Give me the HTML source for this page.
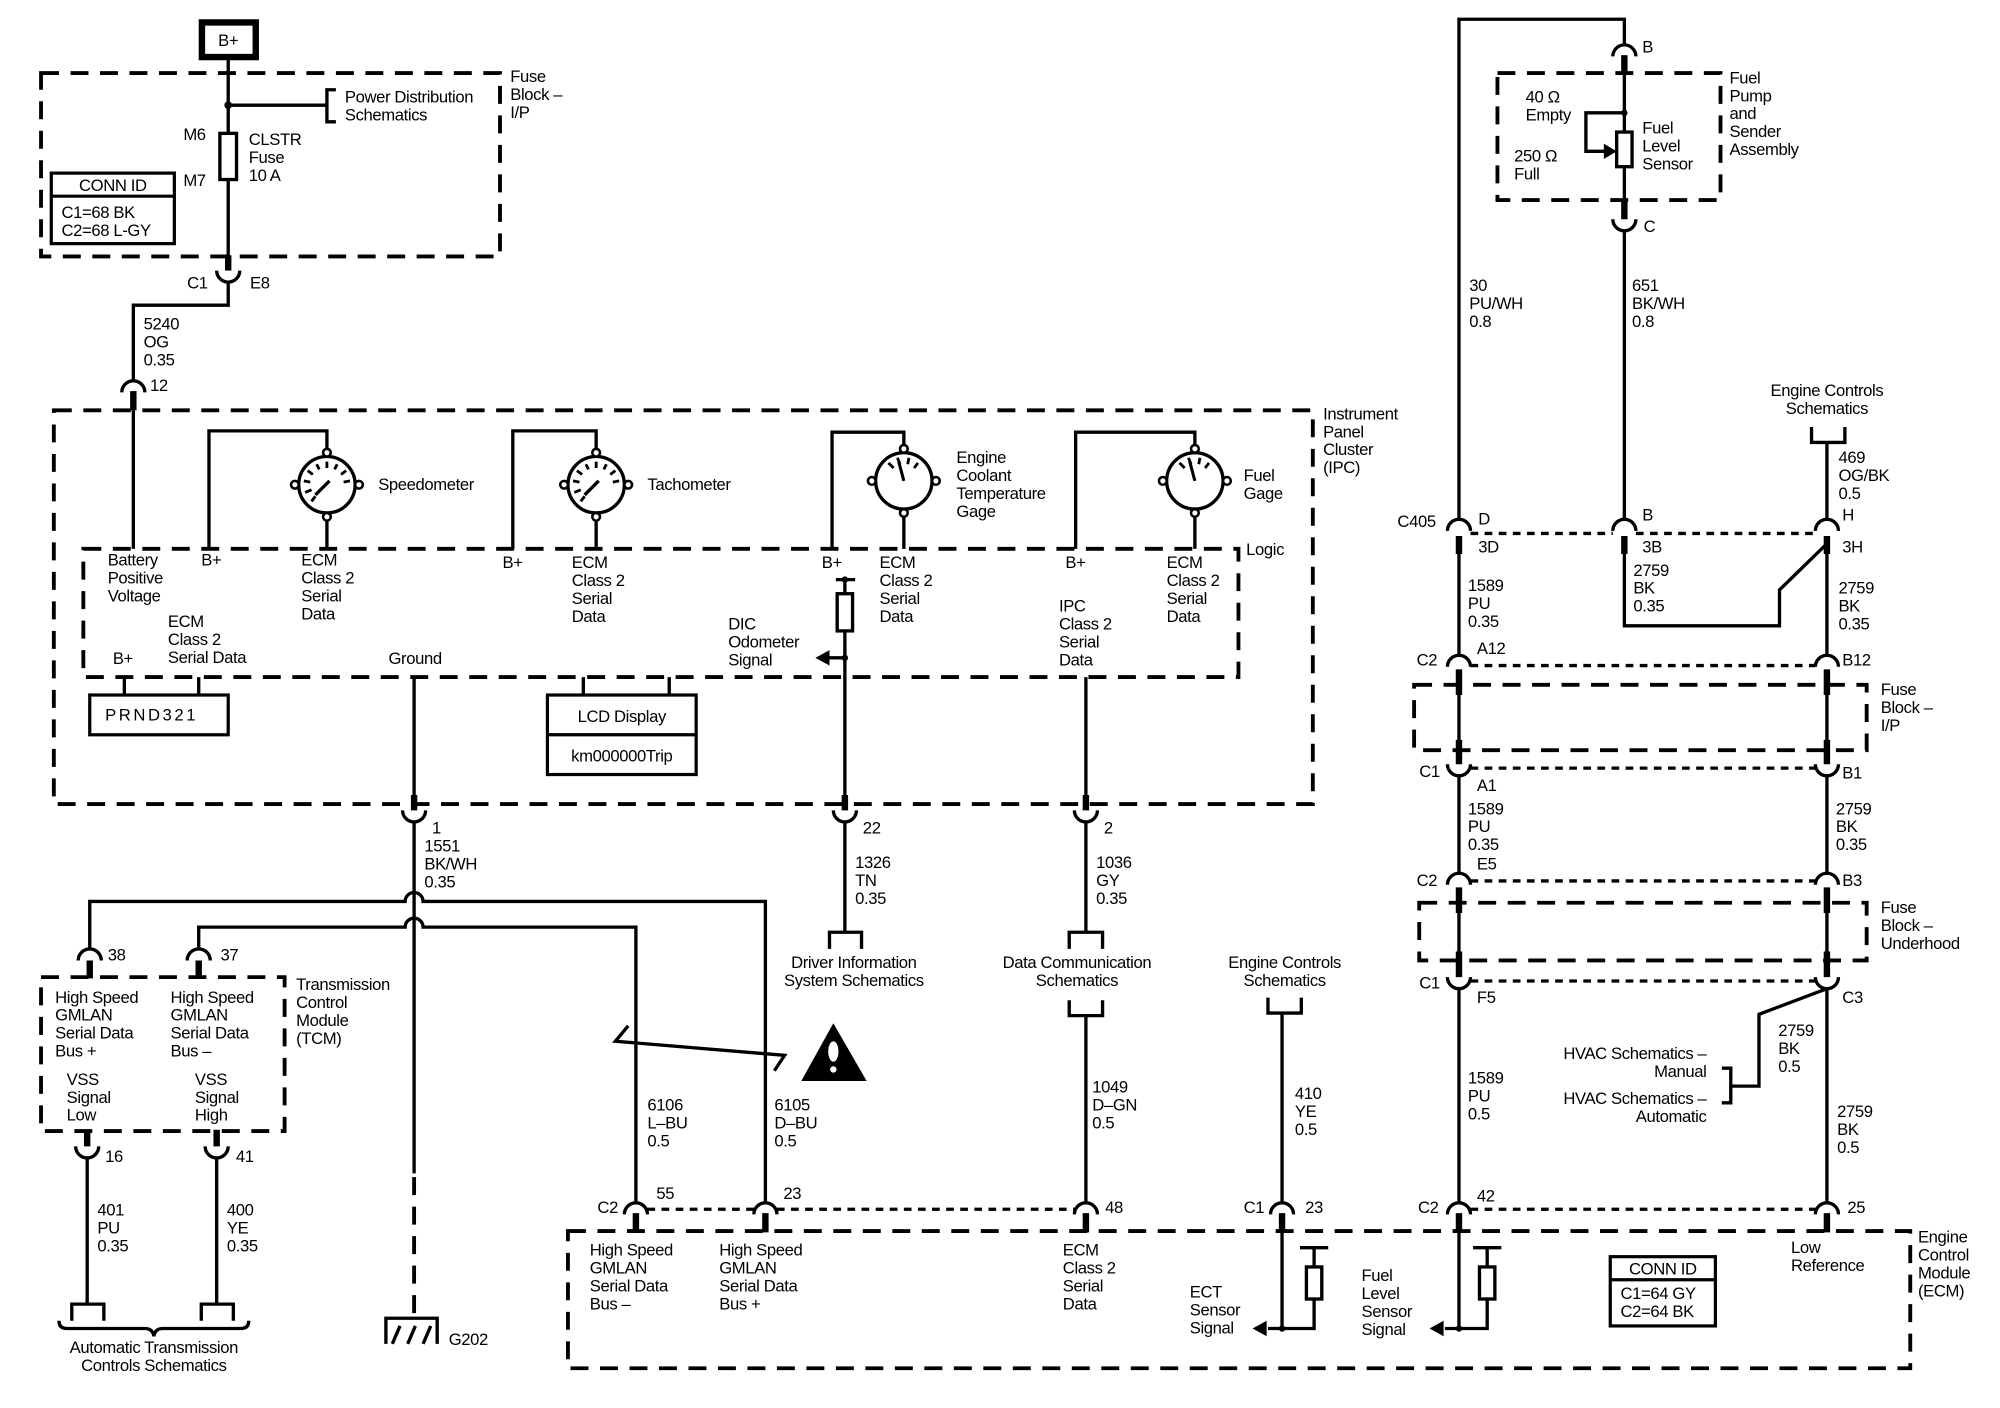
<!DOCTYPE html>
<html><head><meta charset="utf-8"><style>
html,body{margin:0;padding:0;background:#fff;}
svg{display:block;}
text{font-family:"Liberation Sans",Arial,sans-serif;font-size:13px;fill:#000;letter-spacing:-0.3px;}
.w{stroke:#000;stroke-width:2.6;fill:none;}
.t{stroke:#000;stroke-width:5;fill:none;}
.d{stroke:#000;stroke-width:3;fill:none;stroke-dasharray:14 9;}
.s{stroke:#000;stroke-width:2.6;fill:none;stroke-dasharray:6 5;}
.c{text-anchor:middle;}
.r{text-anchor:end;}
</style></head><body>
<svg width="2000" height="1408" viewBox="0 0 1560 1098" preserveAspectRatio="none" xmlns="http://www.w3.org/2000/svg">
<defs>
<g id="gauge">
<circle r="22" class="w"/>
<circle cx="0" cy="-25" r="3" fill="#fff" stroke="#000" stroke-width="2"/>
<circle cx="0" cy="25" r="3" fill="#fff" stroke="#000" stroke-width="2"/>
<circle cx="-25" cy="0" r="3" fill="#fff" stroke="#000" stroke-width="2"/>
<circle cx="25" cy="0" r="3" fill="#fff" stroke="#000" stroke-width="2"/>
</g>
<g id="ticksA" stroke="#000" stroke-width="2.2">
<line x1="-12" y1="4" x2="-17" y2="6"/><line x1="-13" y1="-2" x2="-18" y2="-3"/><line x1="-11" y1="-8" x2="-15" y2="-11"/>
<line x1="-6" y1="-12" x2="-8" y2="-16"/><line x1="0" y1="-13" x2="0" y2="-18"/><line x1="6" y1="-12" x2="8" y2="-16"/>
<line x1="11" y1="-8" x2="15" y2="-11"/><line x1="13" y1="-2" x2="18" y2="-3"/><line x1="-9" y1="9" x2="-12" y2="13"/>
<line x1="2" y1="-3" x2="-9" y2="8" stroke-width="2.6"/>
</g>
<g id="ticksB" stroke="#000" stroke-width="2.2">
<line x1="-8" y1="-10" x2="-12" y2="-14"/><line x1="-3" y1="-13" x2="-5" y2="-18"/><line x1="3" y1="-13" x2="4" y2="-18"/><line x1="8" y1="-10" x2="11" y2="-14"/>
<line x1="-4" y1="-15" x2="0" y2="0" stroke-width="2.4"/>
</g>
</defs>

<!-- B+ -->
<rect x="157.5" y="17.5" width="42" height="27" fill="none" stroke="#000" stroke-width="5"/>
<text x="178" y="36" class="c">B+</text>

<!-- Fuse block I/P -->
<rect x="32" y="57" width="358" height="143" class="d"/>
<text x="398" y="64">Fuse</text><text x="398" y="78">Block –</text><text x="398" y="92">I/P</text>
<path class="w" d="M178 45V104M178 140V200M178 82H255M262 70H255V95H262"/>
<circle cx="178" cy="82" r="3"/>
<rect x="171.5" y="104" width="13" height="36" class="w"/>
<text x="269" y="80">Power Distribution</text><text x="269" y="94">Schematics</text>
<text x="143" y="109">M6</text><text x="143" y="145">M7</text>
<text x="194" y="113">CLSTR</text><text x="194" y="127">Fuse</text><text x="194" y="141">10 A</text>
<rect x="40" y="135" width="96" height="55" fill="none" stroke="#000" stroke-width="2.5"/>
<line x1="40" y1="153" x2="136" y2="153" stroke="#000" stroke-width="2.5"/>
<text x="88" y="149" class="c">CONN ID</text><text x="48" y="170">C1=68 BK</text><text x="48" y="184">C2=68 L-GY</text>
<!-- C1 E8 -->
<path class="t" d="M178 199V211"/>
<path class="w" d="M169 211A9 9 0 0 0 187 211"/>
<text x="146" y="225">C1</text><text x="195" y="225">E8</text>
<path class="w" d="M178 220V238H104V298"/>
<text x="112" y="257">5240</text><text x="112" y="271">OG</text><text x="112" y="285">0.35</text>
<path class="w" d="M95 306A9 9 0 0 1 113 306"/>
<path class="t" d="M104 305V320"/>
<text x="117" y="305">12</text>
<path class="w" d="M104 320V428"/>

<!-- IPC -->
<rect x="42" y="320" width="982" height="307" class="d"/>
<text x="1032" y="327">Instrument</text><text x="1032" y="341">Panel</text><text x="1032" y="355">Cluster</text><text x="1032" y="369">(IPC)</text>
<rect x="65" y="428" width="901" height="100" class="d"/>
<text x="972" y="433">Logic</text>

<!-- gauges -->
<path class="w" d="M163 428V336H255V353M255 403V428"/>
<use href="#gauge" x="255" y="378"/><use href="#ticksA" x="255" y="378"/>
<text x="295" y="382">Speedometer</text>
<path class="w" d="M400 428V336H465V353M465 403V428"/>
<use href="#gauge" x="465" y="378"/><use href="#ticksA" x="465" y="378"/>
<text x="505" y="382">Tachometer</text>
<path class="w" d="M649 428V337H705V350M705 400V428"/>
<use href="#gauge" x="705" y="375"/><use href="#ticksB" x="705" y="375"/>
<text x="746" y="361">Engine</text><text x="746" y="375">Coolant</text><text x="746" y="389">Temperature</text><text x="746" y="403">Gage</text>
<path class="w" d="M839 428V337H932V350M932 400V428"/>
<use href="#gauge" x="932" y="375"/><use href="#ticksB" x="932" y="375"/>
<text x="970" y="375">Fuel</text><text x="970" y="389">Gage</text>

<!-- logic texts -->
<text x="84" y="441">Battery</text><text x="84" y="455">Positive</text><text x="84" y="469">Voltage</text>
<text x="157" y="441">B+</text>
<text x="235" y="441">ECM</text><text x="235" y="455">Class 2</text><text x="235" y="469">Serial</text><text x="235" y="483">Data</text>
<text x="392" y="443">B+</text>
<text x="446" y="443">ECM</text><text x="446" y="457">Class 2</text><text x="446" y="471">Serial</text><text x="446" y="485">Data</text>
<text x="641" y="443">B+</text>
<text x="686" y="443">ECM</text><text x="686" y="457">Class 2</text><text x="686" y="471">Serial</text><text x="686" y="485">Data</text>
<text x="831" y="443">B+</text>
<text x="910" y="443">ECM</text><text x="910" y="457">Class 2</text><text x="910" y="471">Serial</text><text x="910" y="485">Data</text>
<text x="131" y="489">ECM</text><text x="131" y="503">Class 2</text><text x="131" y="517">Serial Data</text>
<text x="88" y="518">B+</text>
<text x="303" y="518">Ground</text>
<text x="568" y="491">DIC</text><text x="568" y="505">Odometer</text><text x="568" y="519">Signal</text>
<text x="826" y="477">IPC</text><text x="826" y="491">Class 2</text><text x="826" y="505">Serial</text><text x="826" y="519">Data</text>

<!-- PRND / LCD -->
<path class="w" d="M97 528V543M155 528V543M455 528V543M522 528V543"/>
<rect x="70" y="542" width="108" height="31" fill="none" stroke="#000" stroke-width="2.5"/>
<text x="82" y="562" style="letter-spacing:2px">PRND321</text>
<rect x="427" y="542" width="116" height="62" fill="none" stroke="#000" stroke-width="2.5"/>
<line x1="427" y1="573" x2="543" y2="573" stroke="#000" stroke-width="2.5"/>
<text x="485" y="563" class="c">LCD Display</text><text x="485" y="594" class="c">km000000Trip</text>

<!-- DIC odometer -->
<path class="w" d="M652 452H667M659 452V463M659 492V624M659 513H645"/>
<circle cx="659" cy="452" r="2.5"/><circle cx="659" cy="513" r="2.5"/>
<rect x="653" y="463" width="12" height="29" class="w"/>
<polygon points="636,513 647,507 647,519"/>

<!-- IPC bottom connectors -->
<path class="w" d="M323 528V624M847 528V624"/>
<path class="t" d="M323 620V632M659 620V632M847 620V632"/>
<path class="w" d="M314 632A9 9 0 0 0 332 632M650 632A9 9 0 0 0 668 632M838 632A9 9 0 0 0 856 632"/>
<text x="337" y="650">1</text><text x="673" y="650">22</text><text x="861" y="650">2</text>

<!-- ground wire & branches -->
<path class="w" d="M323 641V915"/>
<path class="d" d="M323 918V1028"/>
<text x="331" y="664">1551</text><text x="331" y="678">BK/WH</text><text x="331" y="692">0.35</text>
<path class="w" d="M70 741V703H316A7 7 0 0 1 330 703H597V939"/>
<path class="w" d="M155 741V723H316A7 7 0 0 1 330 723H496V939"/>
<!-- G202 -->
<path class="w" d="M301 1048V1028H341V1048M306 1048L312 1034M318 1048L324 1034M330 1048L336 1034"/>
<text x="350" y="1049">G202</text>

<!-- TCM -->
<path class="w" d="M61 749A9 9 0 0 1 79 749M146 749A9 9 0 0 1 164 749"/>
<path class="t" d="M70 749V763M155 749V763"/>
<text x="84" y="749">38</text><text x="172" y="749">37</text>
<rect x="32" y="762" width="190" height="120" class="d"/>
<text x="231" y="772">Transmission</text><text x="231" y="786">Control</text><text x="231" y="800">Module</text><text x="231" y="814">(TCM)</text>
<text x="43" y="782">High Speed</text><text x="43" y="796">GMLAN</text><text x="43" y="810">Serial Data</text><text x="43" y="824">Bus +</text>
<text x="133" y="782">High Speed</text><text x="133" y="796">GMLAN</text><text x="133" y="810">Serial Data</text><text x="133" y="824">Bus –</text>
<text x="52" y="846">VSS</text><text x="52" y="860">Signal</text><text x="52" y="874">Low</text>
<text x="152" y="846">VSS</text><text x="152" y="860">Signal</text><text x="152" y="874">High</text>
<path class="t" d="M68 881V894M169 881V894"/>
<path class="w" d="M59 894A9 9 0 0 0 77 894M160 894A9 9 0 0 0 178 894"/>
<text x="82" y="906">16</text><text x="184" y="906">41</text>
<path class="w" d="M68 903V1017M169 903V1017M56 1030V1017H81V1030M157 1030V1017H182V1030"/>
<text x="76" y="948">401</text><text x="76" y="962">PU</text><text x="76" y="976">0.35</text>
<text x="177" y="948">400</text><text x="177" y="962">YE</text><text x="177" y="976">0.35</text>
<path class="w" d="M46 1030Q46 1036 52 1036H113Q119 1036 120 1042Q121 1036 127 1036H188Q194 1036 194 1030" stroke-width="2"/>
<text x="120" y="1055" class="c">Automatic Transmission</text><text x="120" y="1069" class="c">Controls Schematics</text>

<!-- warning -->
<polyline class="w" points="490,800 480,812 612,823 604,835"/>
<polygon points="650,798 625,843 676,843"/>
<ellipse cx="650" cy="820" rx="4" ry="8" fill="#fff"/><circle cx="650" cy="834" r="2.5" fill="#fff"/>
<text x="505" y="866">6106</text><text x="505" y="880">L–BU</text><text x="505" y="894">0.5</text>
<text x="604" y="866">6105</text><text x="604" y="880">D–BU</text><text x="604" y="894">0.5</text>

<!-- driver info -->
<path class="w" d="M659 641V727M647 740V727H672V740"/>
<text x="667" y="677">1326</text><text x="667" y="691">TN</text><text x="667" y="705">0.35</text>
<text x="666" y="755" class="c">Driver Information</text><text x="666" y="769" class="c">System Schematics</text>
<!-- data comm -->
<path class="w" d="M847 641V727M834 740V727H860V740M834 780V792H860V780M847 792V939"/>
<text x="855" y="677">1036</text><text x="855" y="691">GY</text><text x="855" y="705">0.35</text>
<text x="840" y="755" class="c">Data Communication</text><text x="840" y="769" class="c">Schematics</text>
<text x="852" y="852">1049</text><text x="852" y="866">D–GN</text><text x="852" y="880">0.5</text>
<!-- engine controls 410 -->
<text x="1002" y="755" class="c">Engine Controls</text><text x="1002" y="769" class="c">Schematics</text>
<path class="w" d="M989 778V790H1015V778M1000 790V939"/>
<text x="1010" y="857">410</text><text x="1010" y="871">YE</text><text x="1010" y="885">0.5</text>

<!-- ECM connector row -->
<path class="s" d="M505 943H588M606 943H838M1147 943H1416"/>
<path class="w" d="M487 947A9 9 0 0 1 505 947M588 947A9 9 0 0 1 606 947M838 947A9 9 0 0 1 856 947M991 947A9 9 0 0 1 1009 947M1129 947A9 9 0 0 1 1147 947M1416 947A9 9 0 0 1 1434 947"/>
<path class="t" d="M496 946V961M597 946V961M847 946V961M1000 946V961M1138 946V961M1425 946V961"/>
<text x="466" y="946">C2</text><text x="512" y="935">55</text><text x="611" y="935">23</text>
<text x="862" y="946">48</text><text x="970" y="946">C1</text><text x="1018" y="946">23</text>
<text x="1106" y="946">C2</text><text x="1152" y="937">42</text><text x="1441" y="946">25</text>

<!-- ECM box -->
<rect x="443" y="960" width="1047" height="107" class="d"/>
<text x="1496" y="969">Engine</text><text x="1496" y="983">Control</text><text x="1496" y="997">Module</text><text x="1496" y="1011">(ECM)</text>
<text x="460" y="979">High Speed</text><text x="460" y="993">GMLAN</text><text x="460" y="1007">Serial Data</text><text x="460" y="1021">Bus –</text>
<text x="561" y="979">High Speed</text><text x="561" y="993">GMLAN</text><text x="561" y="1007">Serial Data</text><text x="561" y="1021">Bus +</text>
<text x="829" y="979">ECM</text><text x="829" y="993">Class 2</text><text x="829" y="1007">Serial</text><text x="829" y="1021">Data</text>
<!-- ECT -->
<path class="w" d="M1000 960V1036H989M1014 973H1036M1025 973V988M1025 1013V1036H1000"/>
<rect x="1019" y="988" width="12" height="25" class="w"/>
<circle cx="1000" cy="1036" r="2.5"/>
<polygon points="977,1036 988,1030 988,1042"/>
<text x="928" y="1012">ECT</text><text x="928" y="1026">Sensor</text><text x="928" y="1040">Signal</text>
<!-- Fuel level sensor -->
<path class="w" d="M1138 960V1036H1127M1149 973H1171M1160 973V988M1160 1013V1036H1138"/>
<rect x="1154" y="988" width="12" height="25" class="w"/>
<circle cx="1138" cy="1036" r="2.5"/>
<polygon points="1115,1036 1126,1030 1126,1042"/>
<text x="1062" y="999">Fuel</text><text x="1062" y="1013">Level</text><text x="1062" y="1027">Sensor</text><text x="1062" y="1041">Signal</text>
<rect x="1256" y="980" width="82" height="54" fill="none" stroke="#000" stroke-width="2.5"/>
<line x1="1256" y1="998" x2="1338" y2="998" stroke="#000" stroke-width="2.5"/>
<text x="1297" y="994" class="c">CONN ID</text><text x="1264" y="1013">C1=64 GY</text><text x="1264" y="1027">C2=64 BK</text>
<text x="1397" y="977">Low</text><text x="1397" y="991">Reference</text>

<!-- RIGHT SIDE -->
<path class="w" d="M1138 406V15H1267V36"/>
<path class="w" d="M1258 44A9 9 0 0 1 1276 44"/>
<path class="t" d="M1267 43V57"/>
<text x="1281" y="41">B</text>
<rect x="1168" y="57" width="174" height="99" class="d"/>
<text x="1349" y="65">Fuel</text><text x="1349" y="79">Pump</text><text x="1349" y="93">and</text><text x="1349" y="107">Sender</text><text x="1349" y="121">Assembly</text>
<path class="w" d="M1267 57V103M1267 130V162M1267 88H1237V118H1253"/>
<circle cx="1267" cy="88" r="2.5"/>
<polygon points="1261,118 1251,112 1251,124"/>
<rect x="1261" y="103" width="12" height="27" class="w"/>
<text x="1190" y="80">40 Ω</text><text x="1190" y="94">Empty</text><text x="1181" y="126">250 Ω</text><text x="1181" y="140">Full</text>
<text x="1281" y="104">Fuel</text><text x="1281" y="118">Level</text><text x="1281" y="132">Sensor</text>
<path class="t" d="M1267 156V171"/>
<path class="w" d="M1258 171A9 9 0 0 0 1276 171M1267 180V406"/>
<text x="1282" y="181">C</text>
<text x="1146" y="227">30</text><text x="1146" y="241">PU/WH</text><text x="1146" y="255">0.8</text>
<text x="1273" y="227">651</text><text x="1273" y="241">BK/WH</text><text x="1273" y="255">0.8</text>
<text x="1425" y="309" class="c">Engine Controls</text><text x="1425" y="323" class="c">Schematics</text>
<path class="w" d="M1413 333V345H1439V333M1425 345V406"/>
<text x="1434" y="361">469</text><text x="1434" y="375">OG/BK</text><text x="1434" y="389">0.5</text>

<!-- C405 -->
<path class="s" d="M1147 416H1258M1276 416H1416"/>
<path class="w" d="M1129 414A9 9 0 0 1 1147 414M1258 414A9 9 0 0 1 1276 414M1416 414A9 9 0 0 1 1434 414"/>
<path class="t" d="M1138 418V432M1267 418V432M1425 418V432"/>
<text x="1090" y="411">C405</text><text x="1153" y="409">D</text><text x="1281" y="406">B</text><text x="1437" y="406">H</text>
<text x="1153" y="431">3D</text><text x="1281" y="431">3B</text><text x="1437" y="431">3H</text>
<path class="w" d="M1138 432V512M1267 432V488H1388V460L1425 424M1425 432V512"/>
<text x="1145" y="461">1589</text><text x="1145" y="475">PU</text><text x="1145" y="489">0.35</text>
<text x="1274" y="449">2759</text><text x="1274" y="463">BK</text><text x="1274" y="477">0.35</text>
<text x="1434" y="463">2759</text><text x="1434" y="477">BK</text><text x="1434" y="491">0.35</text>

<!-- C2 A12/B12 -->
<path class="s" d="M1147 519H1416"/>
<path class="w" d="M1129 520A9 9 0 0 1 1147 520M1416 520A9 9 0 0 1 1434 520"/>
<text x="1105" y="519">C2</text><text x="1152" y="510">A12</text><text x="1437" y="519">B12</text>
<rect x="1103" y="534" width="353" height="51" class="d"/>
<text x="1467" y="542">Fuse</text><text x="1467" y="556">Block –</text><text x="1467" y="570">I/P</text>
<path class="t" d="M1138 522V542M1425 522V542M1138 577V596M1425 577V596"/>
<path class="w" d="M1138 540V580M1425 540V580"/>
<path class="w" d="M1129 596A9 9 0 0 0 1147 596M1416 596A9 9 0 0 0 1434 596"/>
<path class="s" d="M1147 599H1416"/>
<text x="1107" y="606">C1</text><text x="1152" y="617">A1</text><text x="1437" y="607">B1</text>
<path class="w" d="M1138 605V682M1425 605V682"/>
<text x="1145" y="635">1589</text><text x="1145" y="649">PU</text><text x="1145" y="663">0.35</text>
<text x="1432" y="635">2759</text><text x="1432" y="649">BK</text><text x="1432" y="663">0.35</text>
<path class="w" d="M1129 690A9 9 0 0 1 1147 690M1416 690A9 9 0 0 1 1434 690"/>
<path class="s" d="M1147 687H1416"/>
<text x="1105" y="691">C2</text><text x="1152" y="678">E5</text><text x="1437" y="691">B3</text>
<rect x="1107" y="704" width="349" height="45" class="d"/>
<text x="1467" y="712">Fuse</text><text x="1467" y="726">Block –</text><text x="1467" y="740">Underhood</text>
<path class="t" d="M1138 692V712M1425 692V712M1138 742V762M1425 742V762"/>
<path class="w" d="M1138 710V744M1425 710V744"/>
<path class="w" d="M1129 762A9 9 0 0 0 1147 762M1416 762A9 9 0 0 0 1434 762"/>
<path class="s" d="M1147 765H1416"/>
<text x="1107" y="771">C1</text><text x="1152" y="782">F5</text><text x="1437" y="782">C3</text>
<path class="w" d="M1138 771V939M1425 771V939M1425 771L1372 791V847H1350M1343 833H1350V860H1343"/>
<text x="1331" y="826" class="r">HVAC Schematics –</text><text x="1331" y="840" class="r">Manual</text>
<text x="1331" y="861" class="r">HVAC Schematics –</text><text x="1331" y="875" class="r">Automatic</text>
<text x="1387" y="808">2759</text><text x="1387" y="822">BK</text><text x="1387" y="836">0.5</text>
<text x="1145" y="845">1589</text><text x="1145" y="859">PU</text><text x="1145" y="873">0.5</text>
<text x="1433" y="871">2759</text><text x="1433" y="885">BK</text><text x="1433" y="899">0.5</text>
</svg>
</body></html>
